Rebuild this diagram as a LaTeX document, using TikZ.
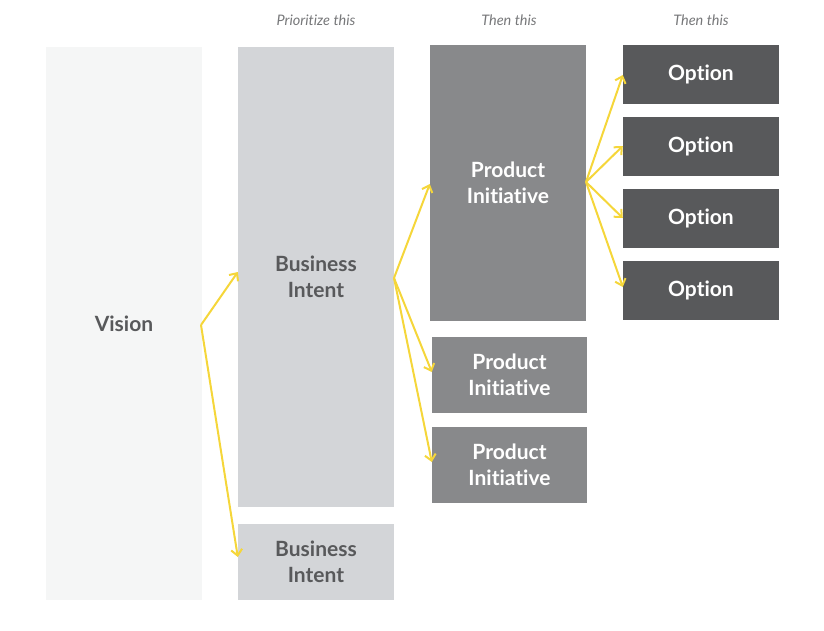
\documentclass[tikz,border=0pt]{standalone}
\usepackage{fontspec}
\setmainfont[Ligatures={NoCommon,NoRare}]{Lato}
\usetikzlibrary{arrows.meta}
\definecolor{vis}{HTML}{F5F6F6}
\definecolor{biz}{HTML}{D3D5D8}
\definecolor{prod}{HTML}{88898B}
\definecolor{opt}{HTML}{58595B}
\definecolor{txt}{HTML}{58595B}
\definecolor{arr}{HTML}{F5D63A}
\definecolor{hdr}{HTML}{77787A}
\tikzset{
  box/.style={draw=none, inner sep=0pt, align=center, font=\bfseries\fontsize{21}{26}\selectfont},
  visbox/.style={box, fill=vis, text=txt},
  bizbox/.style={box, fill=biz, text=txt},
  prodbox/.style={box, fill=prod, text=white},
  optbox/.style={box, fill=opt, text=white},
  hdrtext/.style={font=\itshape\fontsize{14.5}{17}\selectfont, text=hdr},
  link/.style={draw=arr, line width=2pt, -{Straight Barb[length=6pt,width=11pt,line width=2pt]}}
}
\begin{document}
\begin{tikzpicture}[x=1pt,y=-1pt]
\useasboundingbox (0,0) rectangle (824,630);
% headers
\node[hdrtext] (h1) at (316,20) {Prioritize this};
\node[hdrtext] (h2) at (509,20) {Then this};
\node[hdrtext] (h3) at (701,20) {Then this};
% boxes
\node[visbox, minimum width=156pt, minimum height=553pt] (vision) at (124,323.5) {Vision};
\node[bizbox, minimum width=156pt, minimum height=460pt] (b1) at (316,277) {Business\\Intent};
\node[bizbox, minimum width=156pt, minimum height=76pt] (b2) at (316,562) {Business\\Intent};
\node[prodbox, minimum width=156pt, minimum height=276pt] (p1) at (508,183) {Product\\Initiative};
\node[prodbox, minimum width=155pt, minimum height=76pt] (p2) at (509.5,375) {Product\\Initiative};
\node[prodbox, minimum width=155pt, minimum height=76pt] (p3) at (509.5,465) {Product\\Initiative};
\node[optbox, minimum width=156pt, minimum height=59pt] (o1) at (701,74) {Option};
\node[optbox, minimum width=156pt, minimum height=59pt] (o2) at (701,146) {Option};
\node[optbox, minimum width=156pt, minimum height=59pt] (o3) at (701,218) {Option};
\node[optbox, minimum width=156pt, minimum height=59pt] (o4) at (701,290) {Option};
% origins
\coordinate (sv) at (201,325);
\coordinate (sb) at (394,278);
\coordinate (sp) at (586,182);
% targets
\coordinate (tb1) at (b1.west |- 0,272);
\coordinate (tb2) at (b2.west |- 0,557);
\coordinate (tp1) at (p1.west |- 0,184);
\coordinate (tp2) at (p2.west |- 0,372);
\coordinate (tp3) at (p3.west |- 0,462);
\coordinate (to1) at (o1.west |- 0,75);
\coordinate (to2) at (o2.west |- 0,146);
\coordinate (to3) at (o3.west |- 0,218);
\coordinate (to4) at (o4.west |- 0,287);
% arrows
\draw[link] (sv) -- (tb1);
\draw[link] (sv) -- (tb2);
\draw[link] (sb) -- (tp1);
\draw[link] (sb) -- (tp2);
\draw[link] (sb) -- (tp3);
\draw[link] (sp) -- (to1);
\draw[link] (sp) -- (to2);
\draw[link] (sp) -- (to3);
\draw[link] (sp) -- (to4);
\end{tikzpicture}
\end{document}
